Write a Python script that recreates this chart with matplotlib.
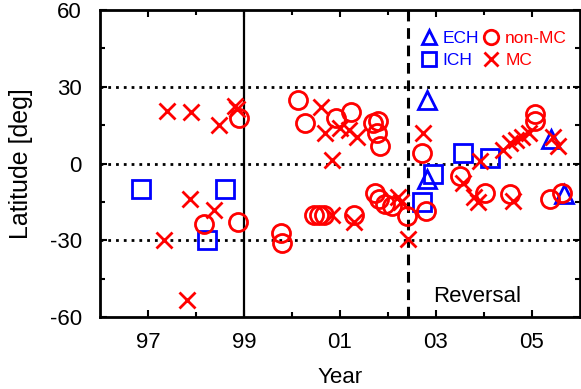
import numpy as np
import matplotlib
matplotlib.use("Agg")
import matplotlib.pyplot as plt
from matplotlib.ticker import FixedLocator

plt.rcParams['font.family'] = ['Liberation Sans', 'DejaVu Sans']

# ECH (triangles)
ech_year = [2002.82, 2002.81, 2005.40, 2005.68]
ech_lat = [25, -6, 9.5, -12]

# ICH (squares)
ich_year = [1996.85, 1998.61, 1998.23, 2002.71, 2002.93, 2003.56, 2004.12]
ich_lat = [-10, -10, -30, -15, -4, 4, 2]

# non-MC (circles)
nonmc_year = [1998.90, 1998.16, 1998.87, 1999.77, 1999.80, 2000.12, 2000.28,
              2000.91, 2001.23, 2001.70, 2001.80, 2001.77, 2001.84, 2000.46,
              2000.56, 2000.66, 2001.29, 2001.74, 2001.82, 2001.94, 2002.08,
              2002.40, 2002.71, 2002.80, 2003.50, 2004.02, 2004.54, 2005.06,
              2005.06, 2005.37, 2005.62]
nonmc_lat = [18, -23.5, -23, -27, -31, 25, 16,
             18, 20, 16, 16.5, 12, 7, -20,
             -20, -20, -20, -11.5, -14, -16, -16.5,
             -20.5, 4, -18.5, -5, -11.5, -12, 19.5,
             16.5, -14, -11.5]

# MC (crosses)
mc_year = [1997.39, 1997.90, 1998.49, 1998.82, 1998.86, 1997.88, 1998.38,
           1997.33, 1997.82, 2000.60, 2000.70, 2000.83, 2001.00, 2001.18,
           2001.35, 2000.84, 2001.30, 2002.22, 2002.28, 2002.42, 2002.74,
           2003.57, 2003.80, 2003.87, 2003.92, 2004.40, 2004.54, 2004.68,
           2004.80, 2004.95, 2004.61, 2005.45, 2005.55]
mc_lat = [20.5, 20, 15, 22.5, 21.5, -14, -18,
          -30, -53.5, 22, 12, 1.5, 14, 13,
          10.5, -20, -23, -13, -15, -29.5, 12,
          -7.5, -13, -15, 1, 5.5, 8, 9.3,
          10.5, 12, -14.5, 10.5, 7]

year_ticks = [1997, 1999, 2001, 2003, 2005]
year_labels = ['97', '99', '01', '03', '05']
lat_ticks = [-60, -30, 0, 30, 60]
reversal_year = 2002.42

red = '#ff0000'
blue = '#0000ff'

fig = plt.figure(figsize=(5.81, 3.89), dpi=100)
ax = fig.add_axes([0.172, 0.185, 0.826, 0.789])

for y in [-30, 0, 30]:
    ax.axhline(y, color='black', lw=2, ls=(0, (1, 1.8)), zorder=1)
ax.axvline(1999, color='black', lw=1.6, zorder=1)
ax.axvline(reversal_year, color='black', lw=2.2, ls=(0, (3.5, 2.2)), zorder=1)

mk = dict(ls='none', mfc='none', mew=2, zorder=3)
h_ech, = ax.plot(ech_year, ech_lat, marker='^', ms=13, mec=blue, label='ECH', **mk)
h_ich, = ax.plot(ich_year, ich_lat, marker='s', ms=13, mec=blue, label='ICH', **mk)
h_non, = ax.plot(nonmc_year, nonmc_lat, marker='o', ms=13, mec=red, label='non-MC', **mk)
h_mc, = ax.plot(mc_year, mc_lat, marker='x', ms=12, mec=red, label='MC', **mk)

ax.set_xlim(1996, 2006)
ax.set_ylim(-60, 60)
ax.set_xticks(year_ticks)
ax.set_xticklabels(year_labels)
ax.xaxis.set_minor_locator(FixedLocator([1998, 2000, 2002, 2004]))
ax.set_yticks(lat_ticks)
ax.set_yticklabels([str(v) for v in lat_ticks])
ax.yaxis.set_minor_locator(FixedLocator([-45, -15, 15, 45]))

ax.tick_params(which='both', direction='in', top=True, right=True, width=1.5)
ax.tick_params(which='major', length=5, labelsize=16)
ax.tick_params(which='minor', length=3.5)
ax.tick_params(axis='x', pad=11)
ax.tick_params(axis='y', pad=13)
for s in ax.spines.values():
    s.set_linewidth(2)

ax.set_xlabel('Year', fontsize=16, labelpad=10)
ax.set_ylabel('Latitude [deg]', fontsize=18, labelpad=12)

ax.text(2003.85, -52, 'Reversal', fontsize=16, ha='center', va='center')

leg = ax.legend(handles=[h_ech, h_ich, h_non, h_mc], ncol=2, loc='upper right',
                bbox_to_anchor=(0.995, 0.965), frameon=False, fontsize=12.5,
                handlelength=0.8, handletextpad=0.4, columnspacing=0.3,
                labelspacing=0.35, borderaxespad=0.2, markerscale=0.8,
                labelcolor=[blue, blue, red, red])

fig.savefig('out.png', dpi=100)
